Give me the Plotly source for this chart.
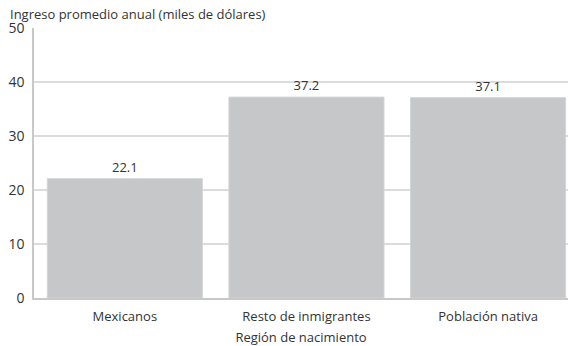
import plotly.graph_objects as go

categorias = ["Mexicanos", "Resto de inmigrantes", "Población nativa"]
ingreso = [22.1, 37.2, 37.1]
etiquetas = ["22.1", "37.2", "37.1"]

fig = go.Figure(go.Bar(
    x=categorias, y=ingreso, text=etiquetas, textposition="outside",
    textfont=dict(size=13, color="#333333"),
    marker=dict(color="#c6c7c9", line=dict(color="#d4d5d7", width=1)),
    cliponaxis=False,
))

fig.update_layout(
    width=568, height=346,
    margin=dict(l=34, r=0, t=28, b=48, autoexpand=False),
    plot_bgcolor="white", paper_bgcolor="white",
    font=dict(family="Open Sans, sans-serif", size=13, color="#333333"),
    bargap=0.146,
    showlegend=False,
    xaxis=dict(
        range=[-0.5, 2.44], showgrid=False, automargin=False,
        showline=True, linecolor="#c8c8c8", linewidth=1.5,
        title=dict(text="Región de nacimiento", standoff=11, font=dict(size=13)),
        ticks="", ticklabelstandoff=6, tickfont=dict(size=13),
    ),
    yaxis=dict(
        range=[0, 50], dtick=10, showgrid=True, gridcolor="#dcdcdc", gridwidth=1.5,
        showline=True, linecolor="#c8c8c8", linewidth=1.5, automargin=False,
        zeroline=False, ticks="", ticklabelstandoff=5, tickfont=dict(size=14),
    ),
    annotations=[dict(
        text="Ingreso promedio anual (miles de dólares)", xref="paper", yref="paper",
        x=-26 / 534, y=1.0, xanchor="left", yanchor="middle", yshift=14, showarrow=False,
        font=dict(size=13, color="#333333"),
    )],
)

fig.write_html("out.html", config={"displayModeBar": False},
               post_script="document.body.style.margin='0';")
